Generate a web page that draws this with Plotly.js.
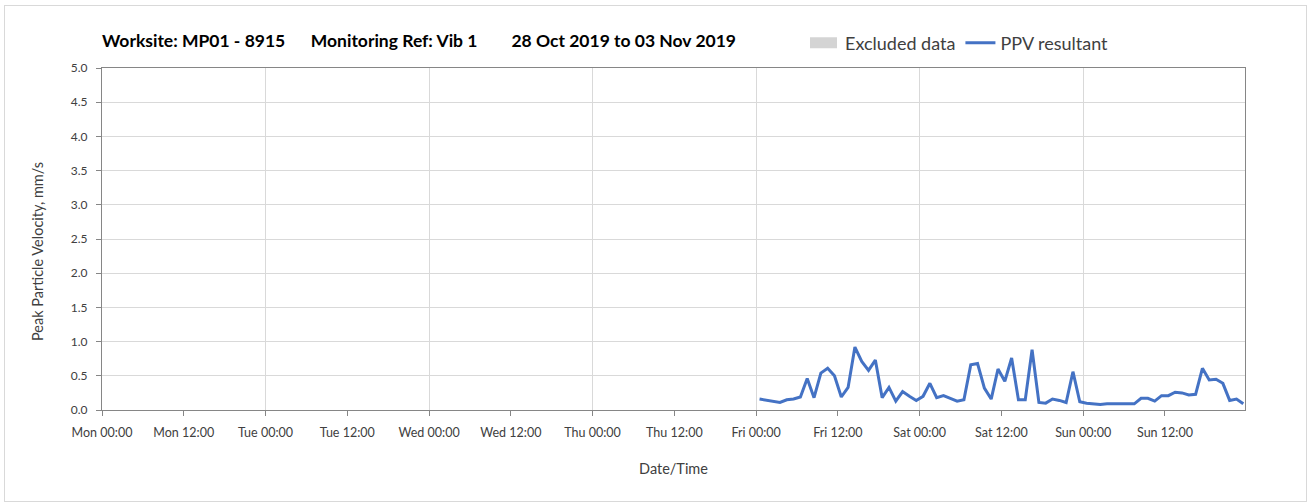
<!DOCTYPE html>
<html>
<head>
<meta charset="utf-8">
<script src="https://cdn.plot.ly/plotly-3.0.1.min.js"></script>
<style>
  html, body { margin: 0; padding: 0; background: #ffffff; }
  #wrap { position: relative; width: 1309px; height: 504px; }
  #chart { position: absolute; left: 0; top: 0; width: 1309px; height: 504px; }
  #frame { position: absolute; left: 4px; top: 5px; width: 1301px; height: 495px;
           border: 1px solid #d9d9d9; pointer-events: none; }
  /* wider rectangular swatch for the "Excluded data" legend entry */
  #chart .legendfill path { d: path("M5,-5.5h27v11h-27z"); }
</style>
</head>
<body>
<div id="wrap">
  <div id="chart"></div>
  <div id="frame"></div>
</div>
<script>
// ---- data ----
const ppvTimes = [
  "2019-11-01 00:30","2019-11-01 01:30","2019-11-01 02:30","2019-11-01 03:30","2019-11-01 04:30","2019-11-01 05:30",
  "2019-11-01 06:30","2019-11-01 07:30","2019-11-01 08:30","2019-11-01 09:30","2019-11-01 10:30","2019-11-01 11:30",
  "2019-11-01 12:30","2019-11-01 13:30","2019-11-01 14:30","2019-11-01 15:30","2019-11-01 16:30","2019-11-01 17:30",
  "2019-11-01 18:30","2019-11-01 19:30","2019-11-01 20:30","2019-11-01 21:30","2019-11-01 22:30","2019-11-01 23:30",
  "2019-11-02 00:30","2019-11-02 01:30","2019-11-02 02:30","2019-11-02 03:30","2019-11-02 04:30","2019-11-02 05:30",
  "2019-11-02 06:30","2019-11-02 07:30","2019-11-02 08:30","2019-11-02 09:30","2019-11-02 10:30","2019-11-02 11:30",
  "2019-11-02 12:30","2019-11-02 13:30","2019-11-02 14:30","2019-11-02 15:30","2019-11-02 16:30","2019-11-02 17:30",
  "2019-11-02 18:30","2019-11-02 19:30","2019-11-02 20:30","2019-11-02 21:30","2019-11-02 22:30","2019-11-02 23:30",
  "2019-11-03 00:30","2019-11-03 01:30","2019-11-03 02:30","2019-11-03 03:30","2019-11-03 04:30","2019-11-03 05:30",
  "2019-11-03 06:30","2019-11-03 07:30","2019-11-03 08:30","2019-11-03 09:30","2019-11-03 10:30","2019-11-03 11:30",
  "2019-11-03 12:30","2019-11-03 13:30","2019-11-03 14:30","2019-11-03 15:30","2019-11-03 16:30","2019-11-03 17:30",
  "2019-11-03 18:30","2019-11-03 19:30","2019-11-03 20:30","2019-11-03 21:30","2019-11-03 22:30","2019-11-03 23:30"
];
const ppvValues = [
  0.16, 0.14, 0.12, 0.11, 0.15, 0.16,
  0.19, 0.46, 0.18, 0.54, 0.61, 0.50,
  0.19, 0.33, 0.92, 0.71, 0.58, 0.73,
  0.18, 0.33, 0.13, 0.27, 0.20, 0.14,
  0.20, 0.39, 0.18, 0.21, 0.17, 0.13,
  0.15, 0.66, 0.68, 0.32, 0.16, 0.60,
  0.42, 0.76, 0.15, 0.15, 0.88, 0.11,
  0.10, 0.16, 0.14, 0.11, 0.56, 0.12,
  0.10, 0.09, 0.08, 0.09, 0.09, 0.09,
  0.09, 0.09, 0.17, 0.17, 0.13, 0.21,
  0.21, 0.26, 0.25, 0.22, 0.23, 0.61,
  0.44, 0.45, 0.39, 0.14, 0.16, 0.09
];
// no excluded periods in this window (kept as a single empty entry so the legend item shows)
const excludedTimes = [null];
const excludedValues = [null];
const xRange = ["2019-10-28 00:00", "2019-11-03 23:45"];
const yRange = [0, 5];
const titleParts = ["Worksite: MP01 - 8915", "Monitoring Ref: Vib 1", "28 Oct 2019 to 03 Nov 2019"];
const seriesNames = ["Excluded data", "PPV resultant"];
const xTitle = "Date/Time";
const yTitle = "Peak Particle Velocity, mm/s";

const FONT = "Lato, 'Open Sans', sans-serif";
const NB = "\u00a0";
const titleText = titleParts[0] + NB.repeat(6) + titleParts[1] + NB.repeat(8) + titleParts[2];

const traces = [
  {
    type: "scatter", mode: "none", fill: "tozeroy",
    x: excludedTimes, y: excludedValues,
    fillcolor: "#d4d4d4", name: seriesNames[0], showlegend: true,
    hoverinfo: "skip"
  },
  {
    type: "scatter", mode: "lines",
    x: ppvTimes, y: ppvValues,
    line: { color: "#4472c4", width: 3 },
    name: seriesNames[1]
  },
  {
    type: "scatter", mode: "lines", x: xRange, y: [null, null],
    xaxis: "x2", showlegend: false, hoverinfo: "skip"
  }
];

const layout = {
  width: 1309, height: 504,
  paper_bgcolor: "#ffffff", plot_bgcolor: "#ffffff",
  margin: { l: 102, r: 64, t: 68, b: 94 },
  font: { family: FONT, color: "#404040" },
  title: {
    text: titleText,
    font: { family: FONT, size: 17.5, color: "#000000", weight: "bold" },
    xref: "paper", x: 0, xanchor: "left",
    yref: "container", y: 1 - 41 / 504, yanchor: "middle"
  },
  showlegend: true,
  legend: {
    orientation: "h",
    xref: "container", x: 805 / 1309, xanchor: "left",
    yref: "container", y: 1 - 43 / 504, yanchor: "middle",
    font: { family: FONT, size: 18, color: "#404040" },
    traceorder: "normal",
    bgcolor: "rgba(0,0,0,0)"
  },
  xaxis: {
    type: "date", range: xRange,
    tickformat: "%a %H:%M", dtick: 43200000, tick0: "2019-10-28 00:00",
    ticks: "outside", ticklen: 5, tickcolor: "#868686", ticklabelstandoff: 6,
    showgrid: false, zeroline: false,
    showline: true, linecolor: "#868686", linewidth: 1, mirror: true,
    tickfont: { family: FONT, size: 12.5, color: "#404040" },
    title: { text: xTitle, font: { family: FONT, size: 14.5, color: "#404040" }, standoff: 24 }
  },
  xaxis2: {
    type: "date", range: xRange, overlaying: "x",
    dtick: 86400000, tick0: "2019-10-28 00:00",
    showgrid: true, gridcolor: "#d9d9d9", gridwidth: 1,
    showticklabels: false, ticks: "", showline: false, zeroline: false
  },
  yaxis: {
    range: yRange, dtick: 0.5, tickformat: ".1f",
    ticks: "outside", ticklen: 5, tickcolor: "#868686", ticklabelstandoff: 6,
    showgrid: true, gridcolor: "#d9d9d9", gridwidth: 1, zeroline: false,
    showline: true, linecolor: "#868686", linewidth: 1, mirror: true,
    tickfont: { family: FONT, size: 12, color: "#404040" }
  },
  annotations: [
    {
      text: yTitle, textangle: -90, showarrow: false,
      xref: "paper", x: 0, xanchor: "center", xshift: -65,
      yref: "paper", y: 0.5, yanchor: "middle", yshift: -13,
      font: { family: FONT, size: 14.5, color: "#404040" }
    }
  ]
};

Plotly.newPlot("chart", traces, layout, { displayModeBar: false, staticPlot: true });
</script>
</body>
</html>
